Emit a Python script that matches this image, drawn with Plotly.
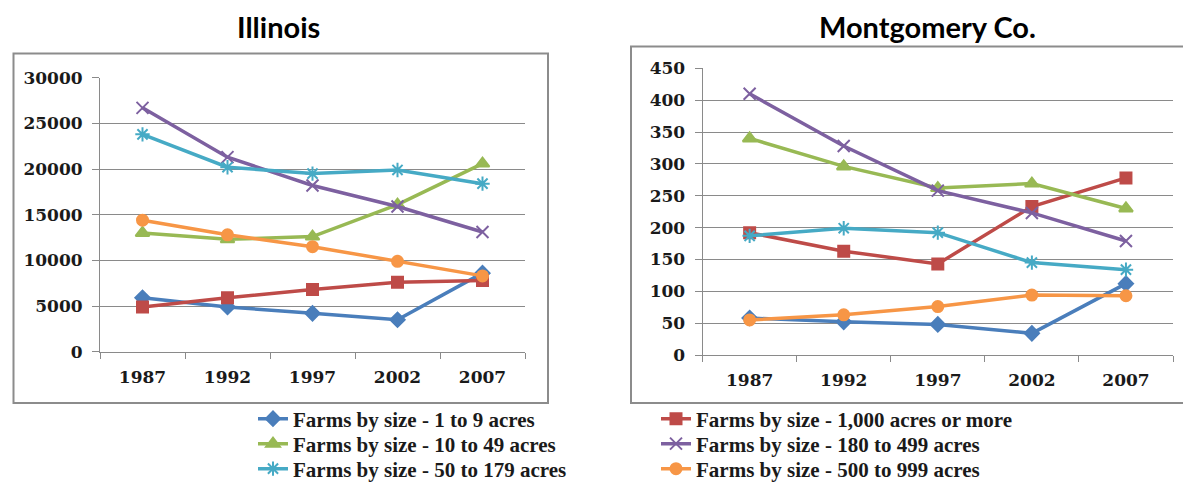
import plotly.graph_objects as go
from plotly.subplots import make_subplots

# Census years shared by both panels
years = ["1987", "1992", "1997", "2002", "2007"]

# Number of farms by size class - Illinois
il_1_9 = [5900, 4900, 4200, 3500, 8600]
il_1000 = [4900, 5900, 6800, 7600, 7800]
il_10_49 = [13000, 12300, 12600, 16100, 20600]
il_180_499 = [26700, 21300, 18200, 15900, 13100]
il_50_179 = [23800, 20200, 19500, 19900, 18400]
il_500_999 = [14400, 12800, 11500, 9900, 8300]

# Number of farms by size class - Montgomery County
mc_1_9 = [58, 52, 48, 34, 112]
mc_1000 = [192, 163, 143, 233, 278]
mc_10_49 = [340, 296, 262, 269, 230]
mc_180_499 = [410, 328, 258, 223, 179]
mc_50_179 = [187, 199, 192, 145, 134]
mc_500_999 = [55, 63, 76, 94, 93]

series_names = [
    "Farms by size - 1 to 9 acres",
    "Farms by size - 1,000 acres or more",
    "Farms by size - 10 to 49 acres",
    "Farms by size - 180 to 499 acres",
    "Farms by size - 50 to 179 acres",
    "Farms by size - 500 to 999 acres",
]
il_values = [il_1_9, il_1000, il_10_49, il_180_499, il_50_179, il_500_999]
mc_values = [mc_1_9, mc_1000, mc_10_49, mc_180_499, mc_50_179, mc_500_999]

colors = ["#4A7EBB", "#BE4B48", "#98B954", "#7D60A0", "#46AAC5", "#F79646"]
symbols = ["diamond", "square", "triangle-up", "x-thin-open", "asterisk-open", "circle"]
sizes = [11, 11, 12, 12, 12, 11]
# two legend entries per row, each row is its own legend box
legend_ids = ["legend", "legend", "legend2", "legend2", "legend3", "legend3"]

W, H = 1183, 484


def px_x(x):
    return x / W


def px_y(y):
    return (H - y) / H


fig = make_subplots(rows=1, cols=2)

for i, name in enumerate(series_names):
    for col, vals in ((1, il_values[i]), (2, mc_values[i])):
        fig.add_trace(
            go.Scatter(
                x=years,
                y=vals,
                mode="lines+markers",
                name=name,
                legendgroup=name,
                legend=legend_ids[i],
                showlegend=(col == 1),
                line=dict(color=colors[i], width=3.5),
                marker=dict(
                    symbol=symbols[i],
                    size=sizes[i],
                    color=colors[i],
                    line=dict(color=colors[i], width=2),
                ),
            ),
            row=1,
            col=col,
        )

tick_font = dict(family="DejaVu Serif", size=17, color="#1a1a1a", weight="bold")
axis_grey = "#8a8a8a"

xcommon = dict(
    type="category",
    categoryorder="array",
    categoryarray=years,
    range=[-0.5, 4.5],
    showline=True,
    linecolor=axis_grey,
    linewidth=1,
    ticks="outside",
    tickson="boundaries",
    ticklen=6,
    tickcolor=axis_grey,
    showgrid=False,
    zeroline=False,
    tickfont=tick_font,
    ticklabelstandoff=10,
    fixedrange=True,
)
ycommon = dict(
    showline=True,
    linecolor=axis_grey,
    linewidth=1,
    ticks="outside",
    ticklen=7,
    tickcolor=axis_grey,
    showgrid=True,
    gridcolor=axis_grey,
    gridwidth=1,
    zeroline=False,
    tickformat="d",
    tickfont=tick_font,
    ticklabelstandoff=6,
    fixedrange=True,
)

fig.update_xaxes(**xcommon)
fig.update_yaxes(**ycommon)

fig.update_layout(
    xaxis=dict(domain=[px_x(100), px_x(525)]),
    yaxis=dict(domain=[px_y(351.7), px_y(77.7)], range=[0, 30000], dtick=5000),
    xaxis2=dict(domain=[px_x(702.6), px_x(1173)]),
    yaxis2=dict(domain=[px_y(355), px_y(68.3)], range=[0, 450], dtick=50),
)

# Frames around each panel
fig.add_shape(type="rect", xref="paper", yref="paper",
              x0=px_x(13.5), x1=px_x(548), y0=px_y(403), y1=px_y(53.5),
              line=dict(color="#8c8c8c", width=2), fillcolor="rgba(0,0,0,0)", layer="below")
fig.add_shape(type="rect", xref="paper", yref="paper",
              x0=px_x(631), x1=px_x(1195), y0=px_y(403), y1=px_y(46.5),
              line=dict(color="#8c8c8c", width=2), fillcolor="rgba(0,0,0,0)", layer="below")

title_font = dict(family="Lato", size=29, color="#000000", weight="bold")
fig.add_annotation(text="Illinois", xref="paper", yref="paper",
                   x=px_x(278), y=px_y(26), xanchor="center", yanchor="middle",
                   showarrow=False, font=title_font)
fig.add_annotation(text="Montgomery Co.", xref="paper", yref="paper",
                   x=px_x(927), y=px_y(26), xanchor="center", yanchor="middle",
                   showarrow=False, font=title_font)

legend_font = dict(family="Liberation Serif", size=21, color="#1a1a1a", weight="bold")


def legend_row(y_center):
    return dict(
        orientation="h",
        x=px_x(253),
        y=px_y(y_center),
        xanchor="left",
        yanchor="middle",
        entrywidth=358,
        entrywidthmode="pixels",
        font=legend_font,
        bgcolor="rgba(0,0,0,0)",
        itemclick=False,
        itemdoubleclick=False,
    )


fig.update_layout(
    width=W,
    height=H,
    margin=dict(l=0, r=0, t=0, b=0, autoexpand=False),
    paper_bgcolor="white",
    plot_bgcolor="white",
    legend=legend_row(419),
    legend2=legend_row(444),
    legend3=legend_row(469),
)

fig.write_html("out.html", config={"displayModeBar": False})
